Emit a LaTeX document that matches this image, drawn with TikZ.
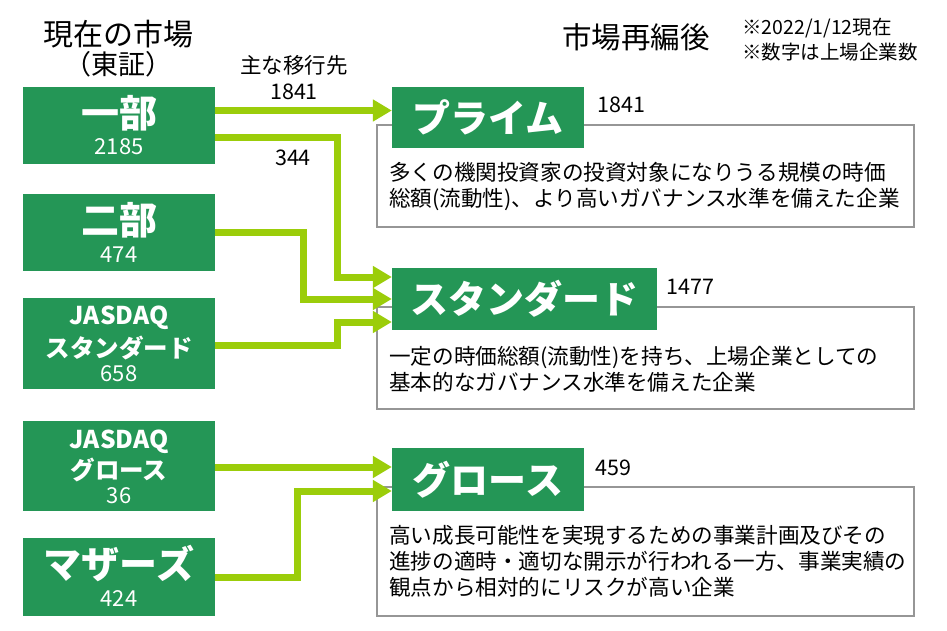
\documentclass[tikz,border=0pt]{standalone}
\usepackage{fontspec}
\setmainfont{Noto Sans CJK JP}
\usetikzlibrary{arrows.meta}
\definecolor{boxgreen}{RGB}{36,150,86}
\definecolor{arrgreen}{RGB}{155,205,10}
\definecolor{descgray}{RGB}{150,150,150}
\newcommand{\myfs}[2]{\fontsize{#1}{#2}\selectfont}
\begin{document}
\begin{tikzpicture}[x=1pt,y=-1pt,
  srcbox/.style={rectangle,fill=boxgreen,draw=none,minimum width=192pt,inner sep=0pt},
  dstbox/.style={rectangle,fill=boxgreen,draw=none,inner sep=0pt},
  descbox/.style={rectangle,draw=descgray,line width=1.2pt,fill=white,minimum width=537pt,inner sep=0pt},
  bigw/.style={text=white,font=\myfs{38}{40}\bfseries,inner sep=0pt},
  midw/.style={text=white,font=\myfs{24.5}{26}\bfseries,inner sep=0pt},
  numw/.style={text=white,font=\myfs{22}{24},inner sep=0pt},
  numk/.style={text=black,font=\myfs{21.5}{24},inner sep=0pt},
  desctext/.style={text=black,font=\myfs{21.6}{25.8},align=left,anchor=west,inner sep=0pt},
  arr/.style={draw=arrgreen,line width=7pt,line join=miter,-{Triangle[length=19pt,width=21pt]}}
]
\fill[white] (0,0) rectangle (947,631);
\useasboundingbox (0,0) rectangle (947,631);

% titles
\node[font=\myfs{30}{32},inner sep=0pt] (tcur) at (118,34) {現在の市場};
\node[font=\myfs{27}{29},inner sep=0pt] (ttse) at (118,64) {（東証）};
\node[font=\myfs{29.5}{32},inner sep=0pt] (tnew) at (636,37) {市場再編後};
\node[font=\myfs{19.5}{25},align=left,anchor=west,inner sep=0pt] (tnote) at (742,40) {※2022/1/12現在\\※数字は上場企業数};
\node[font=\myfs{21.5}{24},inner sep=0pt] (tmain) at (294,65) {主な移行先};
\node[numk] (n1841a) at (294,92) {1841};
\node[numk] (n344) at (293,158) {344};

% description boxes
\node[descbox,minimum height=102pt] (primed) at (645.5,176) {};
\node[descbox,minimum height=102pt] (standardd) at (645.5,358) {};
\node[descbox,minimum height=129pt] (growthd) at (645.5,551.5) {};

\node[desctext] (dp) at (389,186.5) {多くの機関投資家の投資対象になりうる規模の時価\\総額(流動性)、より高いガバナンス水準を備えた企業};
\node[desctext] (ds) at (389,369.5) {一定の時価総額(流動性)を持ち、上場企業としての\\基本的なガバナンス水準を備えた企業};
\node[desctext] (dg) at (389,561.5) {高い成長可能性を実現するための事業計画及びその\\進捗の適時・適切な開示が行われる一方、事業実績の\\観点から相対的にリスクが高い企業};

% destination boxes
\node[dstbox,minimum width=192pt,minimum height=61pt] (prime) at (488,117.5) {};
\node[dstbox,minimum width=265pt,minimum height=62pt] (standard) at (524.5,299) {};
\node[dstbox,minimum width=192pt,minimum height=63pt] (growth) at (488,479.5) {};
\node[bigw] (lprime) at (prime.center) {プライム};
\node[bigw] (lstandard) at (standard.center) {スタンダード};
\node[bigw] (lgrowth) at (growth.center) {グロース};
\node[numk,anchor=west] (nprime) at (597,105) {1841};
\node[numk,anchor=west] (nstandard) at (666,287) {1477};
\node[numk,anchor=west] (ngrowth) at (595,468) {459};

% source boxes
\node[srcbox,minimum height=77pt] (ichibu) at (119,125.5) {};
\node[srcbox,minimum height=77pt] (nibu) at (119,232.5) {};
\node[srcbox,minimum height=91pt] (jstd) at (119,343.5) {};
\node[srcbox,minimum height=90pt] (jgro) at (119,466) {};
\node[srcbox,minimum height=78pt] (mothers) at (119,577) {};

\node[bigw] (l1) at (119,113) {一部};
\node[numw] (c1) at (119,147) {2185};
\node[bigw] (l2) at (119,220) {二部};
\node[numw] (c2) at (119,255) {474};
\node[midw] (l3a) at (119,318) {JASDAQ};
\node[midw] (l3b) at (119,348) {スタンダード};
\node[numw] (c3) at (119,374) {658};
\node[midw] (l4a) at (119,442) {JASDAQ};
\node[midw] (l4b) at (119,470) {グロース};
\node[numw] (c4) at (119,496) {36};
\node[bigw] (l5) at (119,563) {マザーズ};
\node[numw] (c5) at (119,599) {424};

% connectors
\coordinate (s1) at ([yshift=15pt]ichibu.east);
\coordinate (e1) at ([yshift=7pt]prime.west);
\draw[arr] (s1) -- (s1 -| e1);

\coordinate (s2) at ([yshift=-12.5pt]ichibu.east);
\coordinate (e2) at ([yshift=22pt]standard.west);
\coordinate (v2) at (337,0);
\draw[arr] (s2) -- (s2 -| v2) -- (e2 -| v2) -- (e2);

\coordinate (s3) at (nibu.east);
\coordinate (e3) at ([yshift=0pt]standard.west);
\coordinate (v3) at (303,0);
\draw[arr] (s3) -- (s3 -| v3) -- (e3 -| v3) -- (e3);

\coordinate (s4) at ([yshift=-1.5pt]jstd.east);
\coordinate (e4) at ([yshift=-23pt]standard.west);
\draw[arr] (s4) -- (s4 -| v2) -- (e4 -| v2) -- (e4);

\coordinate (s5) at ([yshift=-1pt]jgro.east);
\coordinate (e5) at ([yshift=12.5pt]growth.west);
\draw[arr] (s5) -- (s5 -| e5);

\coordinate (s6) at (mothers.east);
\coordinate (e6) at ([yshift=-11.5pt]growth.west);
\coordinate (v6) at (297,0);
\draw[arr] (s6) -- (s6 -| v6) -- (e6 -| v6) -- (e6);
\end{tikzpicture}
\end{document}
